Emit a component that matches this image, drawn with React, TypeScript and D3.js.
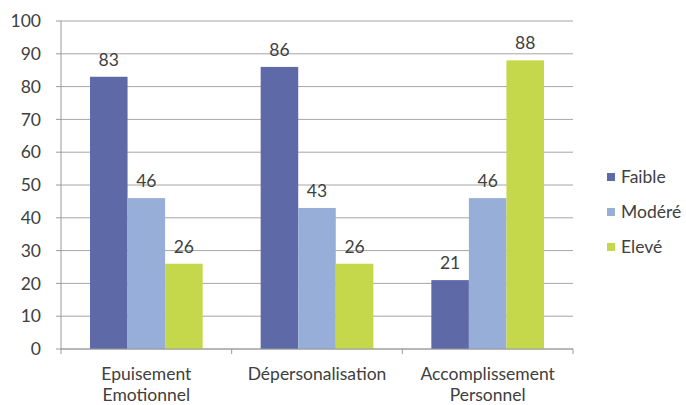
import React from "react";
import * as d3 from "d3";

const categories = [["Epuisement", "Emotionnel"], ["Dépersonalisation"], ["Accomplissement", "Personnel"]];
const seriesNames = ["Faible", "Modéré", "Elevé"];
const faible = [83, 86, 21];
const modere = [46, 43, 46];
const eleve = [26, 26, 88];
const yTicks = [0, 10, 20, 30, 40, 50, 60, 70, 80, 90, 100];
const colors = ["#5d6aa7", "#96aed8", "#c5d84c"];

const W = 686;
const H = 405;
const left = 61;
const right = 573;
const top = 21;
const bottom = 349;
const font = "Lato, 'Open Sans', sans-serif";
const fs = 17.5;

export default function App() {
  const series = [faible, modere, eleve];
  const catKeys = categories.map((c) => c.join(" "));
  const x0 = d3.scaleBand<string>().domain(catKeys).range([left, right]).paddingInner(0).paddingOuter(0);
  const groupPad = 29;
  const x1 = d3
    .scaleBand<string>()
    .domain(seriesNames)
    .range([groupPad, x0.bandwidth() - groupPad])
    .padding(0);
  const y = d3.scaleLinear().domain([0, 100]).range([bottom, top]);

  return (
    <svg width={W} height={H} style={{ position: "absolute", left: 0, top: 0, background: "#fff" }}>
      {/* gridlines */}
      {yTicks.map((t) => (
        <line key={"g" + t} x1={left} x2={right} y1={y(t)} y2={y(t)} stroke="#a6a6a6" strokeWidth={1} />
      ))}
      {/* y tick marks and labels */}
      {yTicks.map((t) => (
        <g key={"t" + t}>
          <line x1={left - 5} x2={left} y1={y(t)} y2={y(t)} stroke="#9a9a9a" />
          <text x={41} y={y(t)} dy="0.35em" textAnchor="end" fontFamily={font} fontSize={fs} fill="#404040">
            {t}
          </text>
        </g>
      ))}
      {/* bars */}
      {catKeys.map((c, ci) => (
        <g key={c} transform={`translate(${x0(c)},0)`}>
          {series.map((s, si) => (
            <g key={si}>
              <rect
                x={x1(seriesNames[si])}
                y={y(s[ci])}
                width={x1.bandwidth()}
                height={y(0) - y(s[ci])}
                fill={colors[si]}
              />
              <text
                x={(x1(seriesNames[si]) as number) + x1.bandwidth() / 2}
                y={y(s[ci]) - 11}
                textAnchor="middle"
                fontFamily={font}
                fontSize={fs}
                fill="#404040"
              >
                {s[ci]}
              </text>
            </g>
          ))}
        </g>
      ))}
      {/* axes */}
      <line x1={left} x2={left} y1={top} y2={bottom} stroke="#9a9a9a" />
      <line x1={left} x2={right} y1={bottom} y2={bottom} stroke="#9a9a9a" />
      {[0, 1, 2, 3].map((i) => (
        <line
          key={"xt" + i}
          x1={left + i * x0.step()}
          x2={left + i * x0.step()}
          y1={bottom}
          y2={bottom + 5}
          stroke="#9a9a9a"
        />
      ))}
      {/* category labels */}
      {categories.map((lines, ci) => (
        <text
          key={"c" + ci}
          x={(x0(catKeys[ci]) as number) + x0.bandwidth() / 2}
          y={380}
          textAnchor="middle"
          fontFamily={font}
          fontSize={fs}
          fill="#404040"
        >
          {lines.map((l, li) => (
            <tspan key={li} x={(x0(catKeys[ci]) as number) + x0.bandwidth() / 2} dy={li === 0 ? 0 : 21}>
              {l}
            </tspan>
          ))}
        </text>
      ))}
      {/* legend */}
      {seriesNames.map((n, i) => (
        <g key={n} transform={`translate(607,${177 + i * 35})`}>
          <rect x={0} y={-4} width={8} height={8} fill={colors[i]} />
          <text x={14} y={0} dy="0.35em" fontFamily={font} fontSize={fs} fill="#404040">
            {n}
          </text>
        </g>
      ))}
    </svg>
  );
}
